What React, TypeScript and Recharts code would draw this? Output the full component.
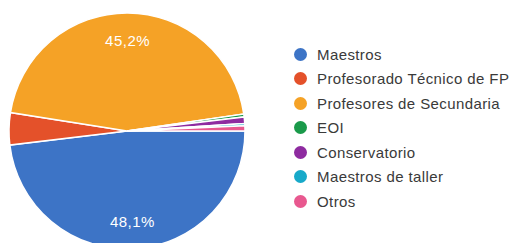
import { PieChart, Pie, Cell } from "recharts"

const categories = [
  "Maestros",
  "Profesorado Técnico de FP",
  "Profesores de Secundaria",
  "EOI",
  "Conservatorio",
  "Maestros de taller",
  "Otros"
]

const shares = [48.1, 4.4, 45.2, 0.4, 0.9, 0.3, 0.7]

const colors = ["#3d74c6", "#e4512a", "#f5a226", "#1a9a4a", "#8e2ba0", "#17a9c9", "#e8588f"]

const data = categories.map((name, i) => ({ name, value: shares[i] }))

const RAD = Math.PI / 180

const renderLabel = (props: any) => {
  const { cx, cy, midAngle, outerRadius, value } = props
  if (value < 10) return null
  const r = outerRadius * 0.77
  const x = cx + r * Math.cos(-midAngle * RAD)
  const y = cy + r * Math.sin(-midAngle * RAD)
  return (
    <text
      x={x}
      y={y}
      fill="#ffffff"
      fontSize={15}
      letterSpacing={0.5}
      textAnchor="middle"
      dominantBaseline="central"
      fontFamily="Liberation Sans, Arial, sans-serif"
    >
      {value.toFixed(1).replace(".", ",")}%
    </text>
  )
}

export default function App() {
  return (
    <div style={{ position: "absolute", left: 0, top: 0, width: 516, height: 243 }}>
      <PieChart width={516} height={243} margin={{ top: 0, right: 0, bottom: 0, left: 0 }}>
        <Pie
          data={data}
          dataKey="value"
          nameKey="name"
          cx={127}
          cy={131}
          outerRadius={118}
          startAngle={0}
          endAngle={-360}
          stroke="#ffffff"
          strokeWidth={1.5}
          label={renderLabel}
          labelLine={false}
          isAnimationActive={false}
        >
          {data.map((d, i) => (
            <Cell key={d.name} fill={colors[i]} />
          ))}
        </Pie>
      </PieChart>
      <div
        style={{
          position: "absolute",
          left: 294,
          top: 42,
          fontFamily: "Liberation Sans, Arial, sans-serif",
          fontSize: 15,
          letterSpacing: 0.4,
          color: "#3a3a3a"
        }}
      >
        {categories.map((name, i) => (
          <div key={name} style={{ display: "flex", alignItems: "center", height: 24.5 }}>
            <span
              style={{
                display: "inline-block",
                width: 13,
                height: 13,
                borderRadius: 7,
                background: colors[i],
                marginRight: 10
              }}
            />
            {name}
          </div>
        ))}
      </div>
    </div>
  )
}
